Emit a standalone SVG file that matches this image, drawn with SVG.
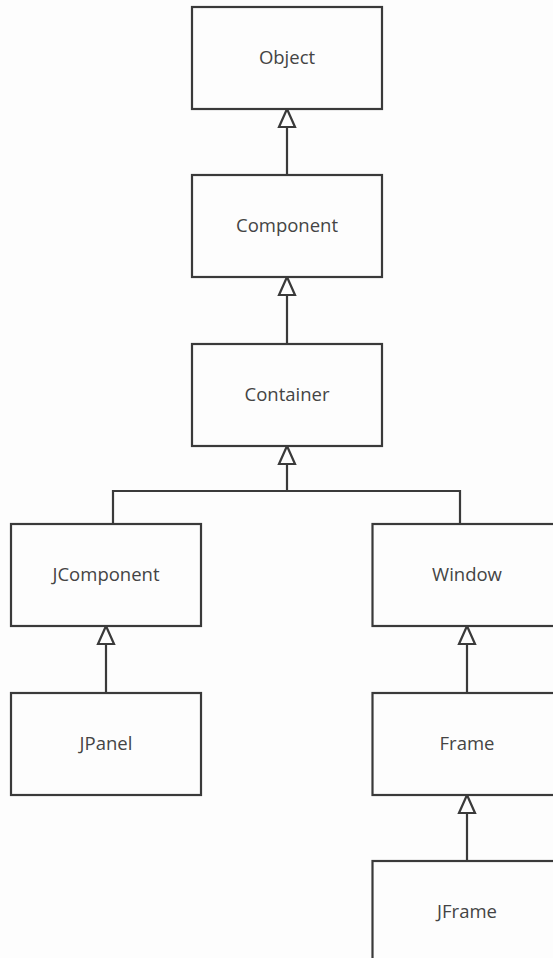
<svg xmlns="http://www.w3.org/2000/svg" width="553" height="958" viewBox="0 0 553 958">
  <defs>
    <style>
      .box { fill: #fdfdfd; stroke: #3a3a3a; stroke-width: 2.2; }
      .label { font-family: "Open Sans", "Liberation Sans", sans-serif; font-size: 18.5px; fill: #444; text-anchor: middle; }
      .wire { fill: none; stroke: #3a3a3a; stroke-width: 2.2; }
      .head { fill: #fdfdfd; stroke: #3a3a3a; stroke-width: 2.2; stroke-linejoin: miter; }
    </style>
    <!-- hollow generalization triangle, tip at origin pointing up -->
    <path id="tri" class="head" d="M0,0 L8,18 L-8,18 Z"/>
  </defs>
  <rect width="553" height="958" fill="#fdfdfd"/>

  <g id="connectors">
    <!-- Component -> Object -->
    <line class="wire" x1="287" y1="127" x2="287" y2="174"/>
    <use href="#tri" x="287" y="109"/>
    <!-- Container -> Component -->
    <line class="wire" x1="287" y1="295" x2="287" y2="344"/>
    <use href="#tri" x="287" y="277"/>
    <!-- JComponent, Window -> Container -->
    <polyline class="wire" points="287,464 287,491"/>
    <polyline class="wire" points="113,524 113,491 460,491 460,524"/>
    <use href="#tri" x="287" y="446"/>
    <!-- JPanel -> JComponent -->
    <line class="wire" x1="106" y1="644" x2="106" y2="693"/>
    <use href="#tri" x="106" y="626"/>
    <!-- Frame -> Window -->
    <line class="wire" x1="467" y1="644" x2="467" y2="693"/>
    <use href="#tri" x="467" y="626"/>
    <!-- JFrame -> Frame -->
    <line class="wire" x1="467" y1="813" x2="467" y2="861"/>
    <use href="#tri" x="467" y="795"/>
  </g>

  <g id="object">
    <rect class="box" x="192" y="7" width="190" height="102"/>
    <text class="label" x="287" y="63.5">Object</text>
  </g>
  <g id="component">
    <rect class="box" x="192" y="175" width="190" height="102"/>
    <text class="label" x="287" y="231.5">Component</text>
  </g>
  <g id="container">
    <rect class="box" x="192" y="344" width="190" height="102"/>
    <text class="label" x="287" y="401">Container</text>
  </g>
  <g id="jcomponent">
    <rect class="box" x="11" y="524" width="190" height="102"/>
    <text class="label" x="106" y="581">JComponent</text>
  </g>
  <g id="window">
    <rect class="box" x="372.5" y="524" width="190" height="102"/>
    <text class="label" x="467" y="581">Window</text>
  </g>
  <g id="jpanel">
    <rect class="box" x="11" y="693" width="190" height="102"/>
    <text class="label" x="106" y="750">JPanel</text>
  </g>
  <g id="frame">
    <rect class="box" x="372.5" y="693" width="190" height="102"/>
    <text class="label" x="467" y="750">Frame</text>
  </g>
  <g id="jframe">
    <rect class="box" x="372.5" y="861" width="190" height="102"/>
    <text class="label" x="467" y="918">JFrame</text>
  </g>
</svg>
